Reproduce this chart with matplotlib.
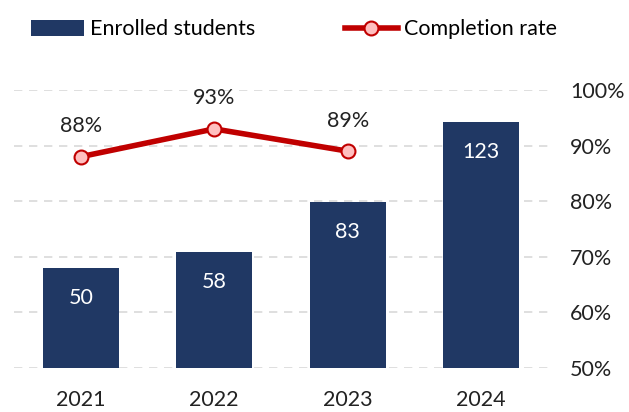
import matplotlib
matplotlib.use("Agg")
import matplotlib.pyplot as plt
from matplotlib.ticker import FuncFormatter

years = ["2021", "2022", "2023", "2024"]
enrolled = [50, 58, 83, 123]
rate_years = ["2021", "2022", "2023"]
completion = [88, 93, 89]

BAR_COLOR = "#203864"
LINE_COLOR = "#C00000"
MARKER_FACE = "#FFBFBF"
FS = 15.5
plt.rcParams["font.family"] = ["Lato", "DejaVu Sans"]

fig = plt.figure(figsize=(6.29, 4.12), dpi=100)
ax = fig.add_axes([0.0223, 0.1068, 0.8487, 0.6748])
ax2 = ax.twinx()

# right axis only carries the percent scale and the grid
ax2.set_ylim(50, 100)
ax2.set_yticks(range(50, 101, 10))
ax2.yaxis.set_major_formatter(FuncFormatter(lambda v, _: f"{v:.0f}%"))
ax2.tick_params(axis="y", length=0, labelsize=FS, pad=16, labelcolor="#222222")
ax2.grid(axis="y", color="#D9D9D9", ls=(0, (5, 4)), lw=1.2)

# bars (left axis, hidden)
YMAX = 139
x = list(range(len(years)))
bars = ax.bar(x, enrolled, width=0.57, color=BAR_COLOR, zorder=2)
for xi, v in zip(x, enrolled):
    ax.text(xi, v - 15, str(v), ha="center", va="center", color="white",
            fontsize=FS)
ax.set_ylim(0, YMAX)
ax.set_xlim(-0.5, 3.5)
ax.set_yticks([])
ax.set_xticks(x)
ax.set_xticklabels(years, fontsize=FS, color="#222222")
ax.tick_params(axis="x", length=0, pad=16)

# line drawn on the bar axes so it sits on top; map % onto left scale
def pct_to_left(p):
    return (p - 50) / 50 * YMAX

xr = [years.index(y) for y in rate_years]
line_kw = dict(color=LINE_COLOR, lw=4, marker="o", ms=10, mfc=MARKER_FACE,
               mec=LINE_COLOR, mew=1.5)
ax.plot(xr, [pct_to_left(c) for c in completion], zorder=3, **line_kw)
for xi, v in zip(xr, completion):
    ax.text(xi, pct_to_left(v + 5.5), f"{v}%", ha="center", va="center",
            fontsize=FS, color="#222222")

ax.set_zorder(ax2.get_zorder() + 1)
ax.patch.set_visible(False)
for a in (ax, ax2):
    for s in a.spines.values():
        s.set_visible(False)

handles = [bars, plt.Line2D([0], [0], **line_kw)]
fig.legend(handles, ["Enrolled students", "Completion rate"], loc="upper left",
           bbox_to_anchor=(31 / 629, 0.953), ncol=2, frameon=False,
           fontsize=FS, handlelength=2.45, handleheight=0.75,
           handletextpad=0.3, columnspacing=4.15, borderpad=0,
           borderaxespad=0)

fig.savefig("out.png", dpi=100)
